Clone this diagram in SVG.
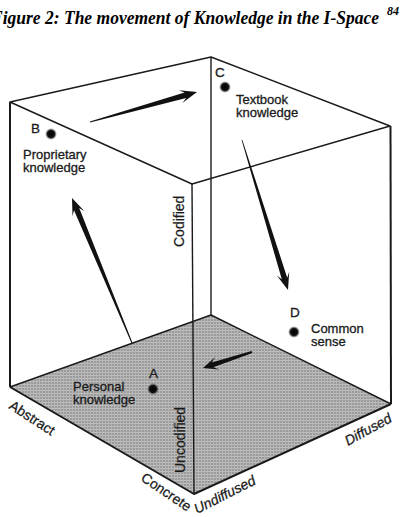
<svg xmlns="http://www.w3.org/2000/svg" width="418" height="517" viewBox="0 0 418 517">
<style>
.edge{fill:none;stroke:#1a1a1a;stroke-width:1.4;stroke-linejoin:round}
.thick{stroke-width:2}
.lbl{font-family:"Liberation Sans","DejaVu Sans",sans-serif;font-size:13px;fill:#1a1a1a;stroke:#1a1a1a;stroke-width:0.3}
.ltr{font-family:"Liberation Sans","DejaVu Sans",sans-serif;font-size:13.5px;fill:#1a1a1a;stroke:#1a1a1a;stroke-width:0.3}
.axis{font-family:"Liberation Sans","DejaVu Sans",sans-serif;font-size:14px;fill:#1a1a1a;stroke:#1a1a1a;stroke-width:0.25}
.ital{font-style:italic}
.arrow{fill:#111;stroke:none}
</style>
<defs>
<pattern id="weave" width="3" height="3" patternUnits="userSpaceOnUse">
<rect width="3" height="3" fill="#9a9a9a"/>
<rect x="0" y="0" width="3" height="1" fill="#c0c0c0"/>
<rect x="0" y="0" width="1" height="3" fill="#b6b6b6"/>
</pattern>
<radialGradient id="dot">
<stop offset="0" stop-color="#000"/>
<stop offset="0.6" stop-color="#111"/>
<stop offset="1" stop-color="#555" stop-opacity="0"/>
</radialGradient>
</defs>
<rect width="418" height="517" fill="#fff"/>

<text x="-9" y="24" textLength="388" lengthAdjust="spacingAndGlyphs" style="font-family:'Liberation Serif','Times New Roman',serif;font-size:18.5px;font-weight:bold;font-style:italic;fill:#000">Figure 2: The movement of Knowledge in the I-Space</text>
<text x="387" y="15" style="font-family:'Liberation Serif','Times New Roman',serif;font-size:12px;font-weight:bold;font-style:italic;fill:#000">84</text>

<g id="cube">
<polygon id="floor" points="10,387 211,315 391,404 194,494" fill="url(#weave)" stroke="none"/>
<polyline class="edge" points="10,387 211,315 391,404"/>
<polyline class="edge thick" points="10,387 194,494 391,404"/>
<polygon class="edge" points="10,102 211,57 390,126 192,184"/>
<line class="edge thick" x1="10" y1="102" x2="10" y2="387"/>
<line class="edge" x1="211" y1="57" x2="211" y2="315"/>
<line class="edge" x1="192" y1="184" x2="194" y2="494"/>
<line class="edge thick" x1="390.5" y1="126" x2="391" y2="404"/>
</g>

<g id="axes">
<text class="axis" transform="translate(184,247) rotate(-90)">Codified</text>
<text class="axis" transform="translate(185,473) rotate(-90)">Uncodified</text>
<text class="axis" transform="translate(8,408) rotate(33)">Abstract</text>
<text class="axis" transform="translate(140,480) rotate(34)">Concrete</text>
<text class="axis ital" transform="translate(197,514) rotate(-27)">Undiffused</text>
<text class="axis ital" transform="translate(348,446) rotate(-29)">Diffused</text>
</g>

<g id="nodeA">
<text class="ltr" x="149" y="378">A</text>
<circle cx="153" cy="389" r="6" fill="url(#dot)"/>
<text class="lbl" x="73" y="391">Personal</text>
<text class="lbl" x="73" y="404">knowledge</text>
</g>
<g id="nodeB">
<text class="ltr" x="31" y="133">B</text>
<circle cx="51" cy="134" r="6" fill="url(#dot)"/>
<text class="lbl" x="23" y="159">Proprietary</text>
<text class="lbl" x="23" y="172">knowledge</text>
</g>
<g id="nodeC">
<text class="ltr" x="215" y="77">C</text>
<circle cx="225" cy="87" r="6" fill="url(#dot)"/>
<text class="lbl" x="236" y="104">Textbook</text>
<text class="lbl" x="236" y="117">knowledge</text>
</g>
<g id="nodeD">
<text class="ltr" x="290" y="317">D</text>
<circle cx="294" cy="332" r="6" fill="url(#dot)"/>
<text class="lbl" x="311" y="333">Common</text>
<text class="lbl" x="311" y="346">sense</text>
</g>

<g id="connectors">
<polygon class="arrow" points="90.1,122.4 186.2,97.9 182.4,102.9 197,92 178.8,90.3 184.6,92.5 89.9,121.6"/>
<polygon class="arrow" points="132.46,342.81 79.2,208.0 84.5,211.2 72,198 72.5,216.2 74.0,210.2 131.54,343.19"/>
<polygon class="arrow" points="242.38,139.88 287.2,277.7 289.2,271.8 288,290 276.8,275.6 281.8,279.3 241.62,140.12"/>
<polygon class="arrow" points="252.4,353.1 213.3,367.3 219.3,369.5 203,368 215.3,357.1 211.7,362.5 251.6,350.9"/>
</g>
</svg>
